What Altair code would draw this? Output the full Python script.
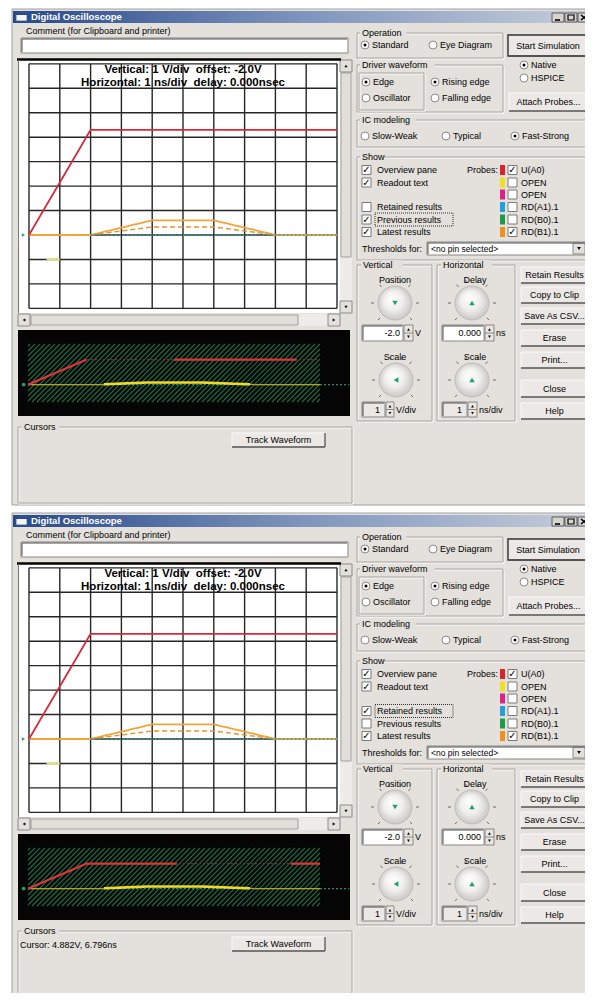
import math
import altair as alt
import pandas as pd

FONT = "Liberation Sans"
BG = "#e4e0dc"

# ================= values =================
ns_ticks = [0, 1, 2, 3, 4, 5, 6, 7, 8, 9, 10]            # 1 ns/div
volt_ticks = [-3, -2, -1, 0, 1, 2, 3, 4, 5, 6, 7]        # 1 V/div (offset -2.0 V)

ua0_t = [0, 2, 10]
ua0_v = [0.0, 4.3, 4.3]
latest_t = [0, 2, 4, 6, 8, 10]
latest_v = [0.0, 0.0, 0.6, 0.6, 0.0, 0.0]
previous_t = [2, 4, 6, 8]
previous_v = [0.0, 0.33, 0.33, 0.0]
threshold_t = [2, 10]
threshold_v = [0.0, 0.0]
marker_t = [0.57, 1.0]
marker_v = [-1.0, -1.0]

# overview pane traces
ov_red_t = [0, 2, 10]
ov_red_v = [0.0, 4.3, 4.3]
ov_red_bright_w1_t = [[0, 2], [5.0, 9.2]]
ov_red_bright_w1_v = [[0.0, 4.3], [4.3, 4.3]]
ov_red_bright_w2_t = [[0, 2, 5.1], [9.0, 10]]
ov_red_bright_w2_v = [[0.0, 4.3, 4.3], [4.3, 4.3]]
ov_yellow_t = [0, 2.5, 4, 6, 7.8, 10]
ov_yellow_v = [0.0, 0.0, 0.35, 0.35, 0.0, 0.0]
ov_yellow_bright_t = [2.6, 4, 6, 7.6]
ov_yellow_bright_v = [0.05, 0.35, 0.35, 0.05]
ov_base_t = [0, 11]
ov_base_v = [0.0, 0.0]

scope_header = ["Vertical: 1 V/div\u00a0\u00a0offset: -2.0V", "Horizontal: 1 ns/div\u00a0\u00a0delay: 0.000nsec"]
show_labels = ["Overview pane", "Readout text", "Retained results", "Previous results", "Latest results"]
show_state = [[True, True, False, True, True], [True, True, True, False, True]]
focus_item = [3, 2]
probe_labels = ["U(A0)", "OPEN", "OPEN", "RD(A1).1", "RD(B0).1", "RD(B1).1"]
probe_colors = ["#e0202a", "#f0e020", "#e0208c", "#20a0dc", "#1a9a4a", "#f0901e"]
probe_checked = [True, False, False, False, False, True]
button_labels = ["Retain Results", "Copy to Clip", "Save As CSV...", "Erase", "Print...", "Close", "Help"]
cursor_readout = ["", "Cursor: 4.882V, 6.796ns"]

# ================= layout helpers (GUI chrome) =================
FR, R, L, T, TITLE, RAD, DOT, KNOB, PTR, TRI, FOCUS = [], [], [], [], [], [], [], [], [], [], []


def rect(x, x2, y, y2, fill, stroke="transparent", sw=0.0):
    R.append(dict(x=x, x2=x2, y=y, y2=y2, fill=fill, stroke=stroke, sw=sw))


def rule(x, y, x2, y2, color, w=1.0):
    L.append(dict(x=x, y=y, x2=x2, y2=y2, color=color, w=w))


def text(x, y, s, align="left", size=9.0, bold=False, color="#000000", font=FONT):
    T.append(dict(x=x, y=y, text=s, align=align, size=size, bold=bold, color=color, font=font))


def group(x, x2, y, y2, label=None, lx=None):
    rect(x + 1, x2 + 1, y + 1, y2 + 1, "transparent", "#ffffff", 1)
    rect(x, x2, y, y2, "transparent", "#a8a4a0", 1)
    if label:
        tw = len(label) * 4.7
        rect(lx - 2, lx + tw + 2, y - 5, y + 5, BG)
        text(lx, y, label)


def button(x, x2, y, y2, label, default=False):
    rect(x, x2, y, y2, "#ebe8e5", "#303030" if default else "#fbfbfb", 1.4 if default else 1)
    rule(x, y2, x2, y2, "#505050", 1.3)
    rule(x2, y, x2, y2, "#505050", 1.3)
    text((x + x2) / 2, (y + y2) / 2, label, align="center")


def textbox(x, x2, y, y2, fill="#ffffff"):
    rect(x, x2, y, y2, fill, "#8a8784", 1)
    rule(x + 1, y + 1, x2 - 1, y + 1, "#505050", 1)
    rule(x + 1, y + 1, x + 1, y2 - 1, "#505050", 1)


def radio(cx, cy, label, sel):
    RAD.append(dict(x=cx, y=cy))
    if sel:
        DOT.append(dict(x=cx, y=cy))
    text(cx + 7, cy, label)


def checkbox(x, cy, checked):
    rect(x, x + 9, cy - 4.5, cy + 4.5, "#ffffff", "#7a7a7a", 1)
    if checked:
        text(x + 4.5, cy, "\u2713", align="center", size=10, bold=True, font="DejaVu Sans")


def spinner(x, x2, y, y2):
    rect(x, x2, y, y2, "#e8e5e2", "#8a8784", 1)
    rule(x, (y + y2) / 2, x2, (y + y2) / 2, "#8a8784", 1)
    TRI.append(dict(x=(x + x2) / 2, y=y + (y2 - y) * 0.28, shape="triangle-up", size=8))
    TRI.append(dict(x=(x + x2) / 2, y=y + (y2 - y) * 0.74, shape="triangle-down", size=8))


def knob(cx, cy, pointer):
    KNOB.append(dict(x=cx, y=cy))
    PTR.append(dict(x=cx, y=cy, shape=pointer))
    for a in [-135, -90, -40, -15, 15, 40, 90, 135]:
        r = math.radians(a)
        rule(cx + 21 * math.sin(r), cy - 21 * math.cos(r), cx + 24 * math.sin(r), cy - 24 * math.cos(r), "#6a6a6a", 1)


def window(k, top, bottom, dy):
    FR.append(dict(x=12, x2=597, y=top, y2=bottom, fill=BG, stroke="#a0a0a0", sw=1))
    TITLE.append(dict(x=13, x2=596, y=11 + dy, y2=23 + dy))
    # title bar content
    rect(16, 27, 13 + dy, 21 + dy, "#f4f6fa", "#3a5a8a", 0.8)
    rect(16, 27, 13 + dy, 15 + dy, "#2a4a90")
    text(31, 17 + dy, "Digital Oscilloscope", size=9.5, bold=True, color="#ffffff")
    for bx in [552, 565, 578]:
        rect(bx, bx + 12, 13 + dy, 22 + dy, "#d8d4d0", "#404040", 0.8)
    rule(555, 20 + dy, 560, 20 + dy, "#000000", 1.6)
    rect(568, 574, 15 + dy, 20 + dy, "transparent", "#000000", 1.2)
    rule(581, 15 + dy, 587, 20 + dy, "#000000", 1.5)
    rule(587, 15 + dy, 581, 20 + dy, "#000000", 1.5)

    # comment
    text(26, 31 + dy, "Comment (for Clipboard and printer)")
    textbox(21, 348, 38 + dy, 53 + dy)

    # scope viewport
    rect(19, 340, 60 + dy, 313 + dy, "#ffffff")
    rule(17, 59.5 + dy, 341, 59.5 + dy, "#000000", 2.5)
    rule(18.5, 60 + dy, 18.5, 313 + dy, "#7a7a7a", 1)
    # vertical scrollbar
    rect(340, 352, 60 + dy, 313 + dy, "#eeebe8")
    rect(341, 351, 73 + dy, 257 + dy, "#e2dfdb", "#a0a0a0", 1)
    for yy, sh in [(60, "triangle-up"), (301, "triangle-down")]:
        rect(340, 352, yy + dy, yy + 12 + dy, "#e4e0dc", "#8a8a8a", 1)
        TRI.append(dict(x=346, y=yy + 6 + dy, shape=sh, size=10))
    # horizontal scrollbar
    rect(18, 340, 314 + dy, 326 + dy, "#eeebe8")
    rect(31, 298, 315 + dy, 325 + dy, "#e2dfdb", "#a0a0a0", 1)
    for xx, sh in [(18, "triangle-left"), (328, "triangle-right")]:
        rect(xx, xx + 12, 314 + dy, 326 + dy, "#e4e0dc", "#8a8a8a", 1)
        TRI.append(dict(x=xx + 6, y=320 + dy, shape=sh, size=10))

    # overview pane
    rect(18, 350, 330 + dy, 416 + dy, "#050505")
    x0, x1, y0, y1 = 28, 320, 344 + dy, 402 + dy
    kk = x0 + y0 + 2
    while kk < x1 + y1:
        ya = max(y0, kk - x1)
        yb = min(y1, kk - x0)
        if yb > ya:
            rule(kk - ya, ya, kk - yb, yb, "#1d6e46", 1.1)
        kk += 5

    # cursors
    group(18, 352, 427 + dy, 503 + dy, "Cursors", 24)
    button(232, 325, 433 + dy, 447 + dy, "Track Waveform")
    if cursor_readout[k]:
        text(20, 441 + dy, cursor_readout[k])

    # operation
    group(357, 503, 33 + dy, 58 + dy, "Operation", 362)
    radio(365, 45 + dy, "Standard", True)
    radio(433, 45 + dy, "Eye Diagram", False)
    button(508, 588, 35 + dy, 56 + dy, "Start Simulation", default=True)

    # driver waveform
    group(357, 503, 65 + dy, 112 + dy, "Driver waveform", 362)
    group(359, 424, 73 + dy, 110 + dy)
    radio(366, 82 + dy, "Edge", True)
    radio(366, 98 + dy, "Oscillator", False)
    radio(435, 82 + dy, "Rising edge", True)
    radio(435, 98 + dy, "Falling edge", False)
    radio(524, 65 + dy, "Native", True)
    radio(524, 78 + dy, "HSPICE", False)
    button(509, 588, 93 + dy, 111 + dy, "Attach Probes...")

    # IC modeling
    group(357, 590, 120 + dy, 147 + dy, "IC modeling", 362)
    radio(365, 136 + dy, "Slow-Weak", False)
    radio(446, 136 + dy, "Typical", False)
    radio(515, 136 + dy, "Fast-Strong", True)

    # show
    group(357, 590, 157 + dy, 260 + dy, "Show", 362)
    show_rows = [170, 182.5, 207, 219.5, 232]
    for lab, yy, st in zip(show_labels, show_rows, show_state[k]):
        checkbox(362, yy + dy, st)
        text(377, yy + dy, lab)
    fy = show_rows[focus_item[k]] + dy
    FOCUS.append(dict(x=375, x2=453, y=fy - 6.5, y2=fy + 6.5))
    text(498, 170 + dy, "Probes:", align="right")
    probe_rows = [170, 182.5, 194.5, 207, 219.5, 232]
    for lab, col, yy, ck in zip(probe_labels, probe_colors, probe_rows, probe_checked):
        rect(500, 505, yy - 5 + dy, yy + 5 + dy, col)
        checkbox(508, yy + dy, ck)
        text(521, yy + dy, lab)
    text(362, 248.5 + dy, "Thresholds for:")
    textbox(427, 586, 242 + dy, 255 + dy)
    text(431, 248.5 + dy, "<no pin selected>", size=8.5)
    rect(573, 585, 243 + dy, 254 + dy, "#e4e0dc", "#8a8a8a", 1)
    TRI.append(dict(x=579, y=248.5 + dy, shape="triangle-down", size=14))

    # vertical
    group(357, 432, 265 + dy, 421 + dy, "Vertical", 363)
    text(395, 280 + dy, "Position", align="center")
    knob(395, 303 + dy, "triangle-down")
    textbox(362, 403, 325 + dy, 341 + dy)
    text(400, 333 + dy, "-2.0", align="right")
    spinner(404, 413, 325 + dy, 341 + dy)
    text(415, 333 + dy, "V")
    text(395, 357 + dy, "Scale", align="center")
    knob(396, 380 + dy, "triangle-left")
    textbox(362, 385, 402 + dy, 417 + dy, "#ebe8e5")
    text(380, 409.5 + dy, "1", align="right")
    spinner(386, 394, 402 + dy, 417 + dy)
    text(396, 409.5 + dy, "V/div")

    # horizontal
    group(437, 515, 265 + dy, 421 + dy, "Horizontal", 443)
    text(475, 280 + dy, "Delay", align="center")
    knob(472, 303 + dy, "triangle-up")
    textbox(442, 484, 325 + dy, 341 + dy)
    text(481, 333 + dy, "0.000", align="right")
    spinner(485, 494, 325 + dy, 341 + dy)
    text(496, 333 + dy, "ns")
    text(475, 357 + dy, "Scale", align="center")
    knob(472, 380 + dy, "triangle-up")
    textbox(442, 467, 402 + dy, 417 + dy, "#ebe8e5")
    text(462, 409.5 + dy, "1", align="right")
    spinner(468, 477, 402 + dy, 417 + dy)
    text(479, 409.5 + dy, "ns/div")

    # button column
    btn_rows = [(267, 283), (287, 303), (308, 324), (330, 346), (352, 368), (380, 397), (403, 419)]
    for lab, (a, b) in zip(button_labels, btn_rows):
        button(521, 588, a + dy, b + dy, lab)

    # scope readout
    text(183, 70 + dy, scope_header[0], align="center", size=11.5, bold=True)
    text(183, 83 + dy, scope_header[1], align="center", size=11.5, bold=True)


window(0, 9, 505, 0)
window(1, 513, 1010, 504)

# ================= scales =================
PXs = alt.Scale(domain=[8, 585], range=[0, 577], nice=False, zero=False)
PYs = alt.Scale(domain=[8, 993], range=[0, 985], nice=False, zero=False)


def PX(f):
    return alt.X(f, scale=PXs, axis=None)


def PY(f):
    return alt.Y(f, scale=PYs, axis=None)


def rect_layer(rows, **kw):
    return alt.Chart(pd.DataFrame(rows)).mark_rect(clip=True, **kw).encode(
        x=PX("x:Q"), x2="x2:Q", y=PY("y:Q"), y2="y2:Q",
        fill=alt.Fill("fill:N", scale=None), stroke=alt.Stroke("stroke:N", scale=None),
        strokeWidth=alt.StrokeWidth("sw:Q", scale=None))


title_grad = alt.LinearGradient(gradient="linear", x1=0, x2=1, y1=0, y2=0,
                                stops=[alt.GradientStop(color="#27488a", offset=0),
                                       alt.GradientStop(color="#7f95bd", offset=0.5),
                                       alt.GradientStop(color="#c8cfdb", offset=1)])

layers = [
    rect_layer(FR),
    alt.Chart(pd.DataFrame(TITLE)).mark_rect(fill=title_grad, clip=True).encode(
        x=PX("x:Q"), x2="x2:Q", y=PY("y:Q"), y2="y2:Q"),
    rect_layer(R),
    alt.Chart(pd.DataFrame(L)).mark_rule(clip=True).encode(
        x=PX("x:Q"), x2="x2:Q", y=PY("y:Q"), y2="y2:Q",
        color=alt.Color("color:N", scale=None), strokeWidth=alt.StrokeWidth("w:Q", scale=None)),
]

dash_scale = alt.Scale(domain=["solid", "dash", "dot"], range=[[1, 0], [5, 3], [2, 2]])


def series_df(items):
    rows = []
    for sid, (ts, vs, col, w, dash) in enumerate(items):
        for i, (t, v) in enumerate(zip(ts, vs)):
            rows.append(dict(s=sid, i=i, t=t, v=v, color=col, w=w, dash=dash))
    return pd.DataFrame(rows)


scope_items = [
    (latest_t, latest_v, "#f2a43a", 1.8, "solid"),
    (previous_t, previous_v, "#e8902c", 1.4, "dash"),
    (threshold_t, threshold_v, "#3a9a9a", 1.5, "dot"),
    (ua0_t, ua0_v, "#d8283a", 1.8, "solid"),
    (marker_t, marker_v, "#e6e680", 2.0, "solid"),
]

red_bright = [(ov_red_bright_w1_t, ov_red_bright_w1_v), (ov_red_bright_w2_t, ov_red_bright_w2_v)]

for k, b in enumerate([235.0, 739.0]):
    d = 24.45
    xs = alt.Scale(domain=[0, 10], range=[29 - 8, 337 - 8], nice=False, zero=False)
    ys = alt.Scale(domain=[-3, 7], range=[b + 3 * d - 8, b - 7 * d - 8], nice=False, zero=False)
    gv = pd.DataFrame({"t": ns_ticks, "v0": volt_ticks[0], "v1": volt_ticks[-1]})
    gh = pd.DataFrame({"v": volt_ticks, "t0": ns_ticks[0], "t1": ns_ticks[-1]})
    layers.append(alt.Chart(gv).mark_rule(color="#262626", strokeWidth=1.4).encode(
        x=alt.X("t:Q", scale=xs, axis=None), y=alt.Y("v0:Q", scale=ys, axis=None), y2="v1:Q"))
    layers.append(alt.Chart(gh).mark_rule(color="#262626", strokeWidth=1.4).encode(
        y=alt.Y("v:Q", scale=ys, axis=None), x=alt.X("t0:Q", scale=xs, axis=None), x2="t1:Q"))
    layers.append(alt.Chart(series_df(scope_items)).mark_line(clip=True, strokeCap="butt").encode(
        x=alt.X("t:Q", scale=xs, axis=None), y=alt.Y("v:Q", scale=ys, axis=None),
        detail="s:N", order="i:Q",
        color=alt.Color("color:N", scale=None), strokeWidth=alt.StrokeWidth("w:Q", scale=None),
        strokeDash=alt.StrokeDash("dash:N", scale=dash_scale, legend=None)))
    layers.append(alt.Chart(pd.DataFrame({"t": [-0.18], "v": [0.0]})).mark_point(
        shape="triangle-right", filled=True, color="#20a060", size=14, opacity=1).encode(
        x=alt.X("t:Q", scale=xs, axis=None), y=alt.Y("v:Q", scale=ys, axis=None)))

    ob = 402 + 504 * k
    xo = alt.Scale(domain=[0, 10], range=[28 - 8, 320 - 8], nice=False, zero=False)
    yo = alt.Scale(domain=[-3, 7], range=[ob - 8, ob - 58 - 8], nice=False, zero=False)
    bt, bv = red_bright[k]
    ov_items = [
        (ov_base_t, ov_base_v, "#2a8a6a", 1.2, "dot"),
        (ov_yellow_t, ov_yellow_v, "#b8a020", 1.3, "solid"),
        (ov_yellow_bright_t, ov_yellow_bright_v, "#f2d824", 2.6, "solid"),
        (ov_red_t, ov_red_v, "#8a2a2a", 1.4, "dot"),
    ] + [(t_, v_, "#e03434", 2.2, "solid") for t_, v_ in zip(bt, bv)]
    layers.append(alt.Chart(series_df(ov_items)).mark_line(clip=True, strokeCap="butt").encode(
        x=alt.X("t:Q", scale=xo, axis=None), y=alt.Y("v:Q", scale=yo, axis=None),
        detail="s:N", order="i:Q",
        color=alt.Color("color:N", scale=None), strokeWidth=alt.StrokeWidth("w:Q", scale=None),
        strokeDash=alt.StrokeDash("dash:N", scale=dash_scale, legend=None)))
    layers.append(alt.Chart(pd.DataFrame({"t": [-0.15], "v": [0.0]})).mark_circle(
        color="#20a060", size=14, opacity=1).encode(
        x=alt.X("t:Q", scale=xo, axis=None), y=alt.Y("v:Q", scale=yo, axis=None)))

knob_grad = alt.RadialGradient(gradient="radial", x1=0.4, y1=0.35, r1=0, x2=0.5, y2=0.5, r2=0.55,
                               stops=[alt.GradientStop(color="#ffffff", offset=0),
                                      alt.GradientStop(color="#f0efee", offset=0.5),
                                      alt.GradientStop(color="#c4c2c0", offset=1)])
layers.append(alt.Chart(pd.DataFrame(KNOB)).mark_circle(
    fill=knob_grad, stroke="#c0bcb8", strokeWidth=1, size=1156, opacity=1).encode(
    x=PX("x:Q"), y=PY("y:Q")))
layers.append(alt.Chart(pd.DataFrame(PTR)).mark_point(filled=True, color="#1ea070", size=30, opacity=1).encode(
    x=PX("x:Q"), y=PY("y:Q"), shape=alt.Shape("shape:N", scale=None)))
layers.append(alt.Chart(pd.DataFrame(RAD)).mark_circle(
    fill="#ffffff", stroke="#8a8a8a", strokeWidth=1, size=64, opacity=1).encode(
    x=PX("x:Q"), y=PY("y:Q")))
layers.append(alt.Chart(pd.DataFrame(DOT)).mark_circle(color="#000000", size=9, opacity=1).encode(
    x=PX("x:Q"), y=PY("y:Q")))
layers.append(alt.Chart(pd.DataFrame(TRI)).mark_point(filled=True, color="#000000", opacity=1).encode(
    x=PX("x:Q"), y=PY("y:Q"), shape=alt.Shape("shape:N", scale=None), size=alt.Size("size:Q", scale=None)))
layers.append(alt.Chart(pd.DataFrame(FOCUS)).mark_rect(
    fillOpacity=0, stroke="#303030", strokeWidth=1, strokeDash=[1, 1]).encode(
    x=PX("x:Q"), x2="x2:Q", y=PY("y:Q"), y2="y2:Q"))

df_T = pd.DataFrame(T)
for (align, bold, font), sub in df_T.groupby(["align", "bold", "font"]):
    layers.append(alt.Chart(sub.reset_index(drop=True)).mark_text(
        align=align, baseline="middle", font=font, fontWeight="bold" if bold else "normal", clip=True).encode(
        x=PX("x:Q"), y=PY("y:Q"), text="text:N",
        size=alt.Size("size:Q", scale=None), color=alt.Color("color:N", scale=None)))

chart = alt.layer(*layers).resolve_scale(x="independent", y="independent").properties(
    width=577, height=985, padding=0, autosize=alt.AutoSizeParams(type="none")
).configure_view(strokeWidth=0)

chart.save("out.html", embed_options={"renderer": "svg", "actions": False})
